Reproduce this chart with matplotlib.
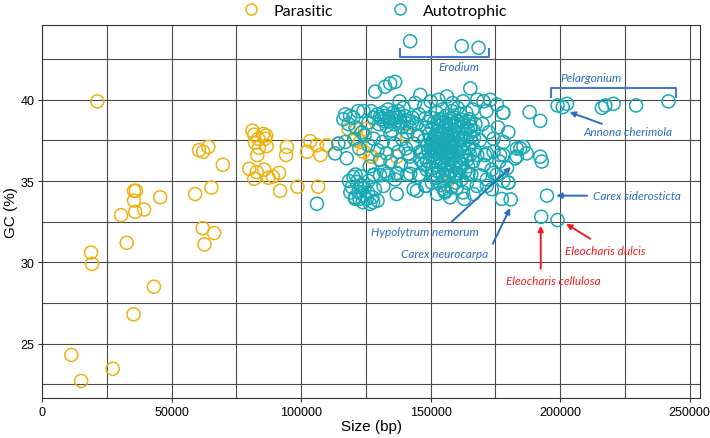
import matplotlib
matplotlib.use("Agg")
import matplotlib.pyplot as plt
from matplotlib import font_manager
from matplotlib.lines import Line2D
from matplotlib.ticker import MultipleLocator
import numpy as np

# Parasitic plastomes (size bp, GC %)
parasitic = [
    (21350, 39.9), (60600, 36.9), (64200, 37.1), (62200, 36.8), (69800, 36.0),
    (59100, 34.2), (65400, 34.6), (35500, 34.4), (36200, 34.4), (35500, 33.8),
    (45600, 34.0), (39400, 33.25), (36000, 33.1), (30500, 32.9), (62000, 32.1),
    (66400, 31.8), (62700, 31.1), (32700, 31.2), (18900, 30.6), (19300, 29.9),
    (43200, 28.5), (35300, 26.8), (11300, 24.3), (27300, 23.45), (15100, 22.7),
    (81200, 38.1), (81900, 37.85), (85400, 37.9), (86500, 37.8), (86100, 37.6),
    (83500, 37.6), (82200, 37.35), (83700, 37.05), (86700, 37.15), (83100, 36.6),
    (94500, 37.1), (94200, 36.6), (80000, 35.75), (82900, 35.55), (85800, 35.7),
    (81900, 35.14), (87400, 35.2), (89100, 35.28), (91500, 35.5), (91900, 34.4),
    (98600, 34.65), (106600, 34.65), (103500, 37.45), (102300, 36.8), (106100, 37.2),
    (107500, 36.6), (109900, 37.2), (114400, 37.3), (118300, 38.2), (121500, 38.2),
    (124700, 38.2), (120800, 37.5), (122800, 37.4), (124100, 36.8), (126600, 36.5),
    (130500, 36.3), (137000, 36.5), (140800, 37.8), (156200, 34.8), (127300, 36.5),
]

# Autotrophic plastomes: dense core
auto_core = [
    (150100, 38.9), (151300, 38.6), (152400, 39.2), (153500, 38.8), (154600, 39.4),
    (155800, 39.0), (156900, 38.7), (158100, 39.3), (159200, 38.9), (160400, 39.5),
    (161500, 39.1), (162700, 38.6), (163800, 39.2), (165000, 38.8), (166200, 39.4),
    (167300, 38.5), (148200, 38.3), (149400, 37.9), (150600, 38.2), (151700, 37.8),
    (152900, 38.4), (154000, 38.0), (155100, 38.3), (156300, 37.9), (157400, 38.2),
    (158600, 37.8), (159700, 38.4), (160900, 38.0), (162000, 38.3), (163200, 37.9),
    (164300, 38.2), (165500, 37.7), (166600, 38.1), (147500, 37.5), (148700, 37.2),
    (149800, 37.6), (151000, 37.3), (152100, 37.7), (153300, 37.4), (154400, 37.6),
    (155600, 37.2), (156700, 37.5), (157900, 37.1), (159000, 37.6), (160200, 37.3),
    (161300, 37.7), (162500, 37.2), (163600, 37.5), (164800, 37.0), (166000, 37.4),
    (167100, 36.9), (146800, 36.8), (148000, 36.5), (149100, 36.9), (150300, 36.6),
    (151400, 37.0), (152600, 36.7), (153700, 36.4), (154900, 36.8), (156000, 36.5),
    (157200, 36.9), (158300, 36.6), (159500, 36.2), (160600, 36.7), (161800, 36.4),
    (162900, 36.8), (164100, 36.3), (165200, 36.6), (166400, 36.2), (168000, 36.6),
    (147300, 36.0), (148500, 35.7), (149600, 36.1), (150800, 35.8), (151900, 36.2),
    (153000, 35.9), (154200, 36.1), (155300, 35.7), (156500, 36.0), (157600, 35.6),
    (158800, 35.9), (159900, 35.5), (161100, 35.8), (162200, 36.0), (163400, 35.6),
    (164500, 35.9), (165700, 35.4), (152000, 35.2), (154800, 35.0), (157000, 35.3),
    (159600, 34.9), (161900, 35.1), (158000, 34.6), (155500, 34.4), (152800, 37.9),
    (153900, 37.3), (155000, 38.6), (156100, 37.0), (157300, 38.5), (158400, 37.4),
    (154700, 35.4), (156800, 36.3), (155900, 38.1), (157700, 36.8), (153200, 38.1),
    (159300, 38.1), (154300, 37.0), (155700, 36.6), (156400, 37.7), (153600, 36.2),
    (150700, 37.45), (151800, 36.45), (152500, 38.05), (153100, 37.15), (153800, 36.75),
    (154500, 37.85), (155200, 36.95), (155400, 37.45), (156200, 38.45), (156600, 36.85),
    (157100, 37.35), (157500, 37.75), (158000, 36.35), (158700, 37.25), (159100, 38.55),
    (159800, 36.85), (160300, 37.85), (160800, 36.25), (161500, 37.05), (162100, 38.75),
    (149200, 38.65), (150100, 37.05), (151200, 35.45), (152300, 36.95), (153400, 35.55),
    (154100, 38.75), (155400, 35.95), (156300, 35.35), (157800, 38.85), (158900, 35.25),
    (160700, 38.65), (161600, 36.05), (162700, 37.65), (163700, 36.55), (164600, 38.65),
    (148600, 36.25), (147900, 38.85), (165300, 38.35), (166700, 37.65), (154000, 34.75),
]

# Autotrophic: clump near 130-145 kb, GC ~38.8
auto_band = [
    (128000, 38.9), (129500, 39.1), (131000, 38.8), (132500, 39.0), (134000, 38.7),
    (135500, 39.2), (137000, 38.9), (138500, 38.6), (140000, 39.0), (141500, 38.7),
    (143000, 38.9), (144500, 38.5), (130000, 38.5), (133000, 38.4), (136000, 38.5),
    (139000, 38.3), (142000, 38.3), (127000, 39.3), (133500, 39.4), (139500, 39.5),
    (145500, 39.1), (126000, 38.6), (135000, 38.1), (141000, 38.0), (131500, 39.2),
    (137500, 39.3), (134800, 38.9), (136500, 38.7), (132000, 38.7), (130500, 38.95),
    (133800, 38.85), (136200, 39.05), (138000, 38.95), (140800, 38.55), (142800, 38.65),
]

# Autotrophic: surrounding scatter
auto_scatter = [
    (117000, 37.4), (114400, 37.3), (113100, 36.7), (117600, 36.4), (120500, 37.6),
    (122500, 37.0), (124500, 37.8), (126000, 37.2), (128000, 37.6), (129500, 36.9),
    (131500, 37.4), (133000, 36.7), (134500, 37.9), (136000, 37.3), (137500, 36.8),
    (139000, 37.6), (140500, 37.0), (142000, 36.5), (143500, 37.3), (145000, 37.8),
    (130500, 36.3), (134500, 36.2), (138500, 36.0), (142500, 35.9), (126500, 35.9),
    (132000, 35.6), (128000, 35.4), (136900, 35.5), (141000, 35.4), (145500, 35.4),
    (146000, 36.3), (117000, 39.1), (118900, 39.0), (116300, 38.8), (118300, 38.5),
    (120200, 38.9), (122000, 39.3), (124100, 39.3), (121000, 38.3), (123500, 38.0),
    (128600, 40.5), (132400, 40.8), (134400, 41.0), (136300, 41.1), (146000, 40.3),
    (156300, 40.2), (165300, 40.7), (150000, 39.9), (153000, 40.0), (158500, 39.8),
    (162500, 39.9), (168000, 40.0), (170400, 39.9), (173000, 40.0), (175600, 39.7),
    (178100, 39.2), (144000, 39.8), (147500, 39.6), (171500, 39.3), (138000, 39.9),
    (170000, 38.5), (172500, 38.0), (174300, 37.6), (178100, 37.4), (183300, 37.0),
    (185800, 37.1), (174300, 36.8), (178100, 36.6), (171000, 36.6), (176000, 38.3),
    (180000, 38.0), (169000, 37.5), (170500, 36.0), (173500, 35.7), (176500, 36.2),
    (179500, 35.8), (183300, 36.5), (184600, 37.0), (187100, 36.7), (177900, 39.2),
    (164000, 34.9), (167800, 34.7), (171700, 35.1), (174300, 35.5), (175500, 35.4),
    (178100, 35.0), (180000, 34.9), (173600, 34.5), (169100, 35.35), (164600, 35.45),
    (160100, 35.35), (155600, 34.3), (150500, 34.9), (147900, 34.7), (144700, 34.4),
    (142100, 35.45), (143400, 34.5), (148500, 34.7), (154900, 34.5), (160100, 34.6),
    (136900, 34.2), (131800, 34.7), (130500, 35.35), (133700, 35.35), (136300, 35.1),
    (146000, 35.35), (137000, 35.45), (133100, 35.45), (128000, 35.35), (141400, 36.7),
    (145900, 36.8), (151100, 36.9), (171700, 36.7), (176800, 36.6), (171700, 34.7),
    (152500, 34.2), (157500, 34.0), (162500, 34.3), (166500, 34.2), (163000, 33.9),
]

# Autotrophic: low-GC clump near 120-128 kb
auto_low = [
    (120200, 35.25), (121500, 34.94), (123400, 34.73), (122100, 34.32), (124100, 34.12),
    (125400, 33.91), (126600, 33.6), (120800, 34.0), (119600, 34.63), (120800, 33.91),
    (122800, 34.73), (118500, 35.0), (119000, 34.3), (121000, 35.4), (123000, 35.3),
    (124500, 34.6), (125800, 34.3), (127500, 34.0), (126000, 35.0), (128500, 34.5),
    (129500, 33.8), (127800, 33.7), (123800, 33.7), (122500, 33.9),
]

# Autotrophic: named outliers (Erodium, Pelargonium, Annona, Carex, Eleocharis ...)
auto_outliers = [
    (142100, 43.6), (162000, 43.3), (168500, 43.2),
    (199000, 39.65), (201000, 39.55), (202600, 39.75), (216100, 39.5), (217400, 39.65),
    (220600, 39.75), (229300, 39.65), (241800, 39.9), (188200, 39.24), (192300, 38.7),
    (192300, 36.5), (192900, 36.2), (182600, 36.4), (180000, 34.9), (177500, 33.9),
    (180900, 33.87), (194900, 34.1), (192700, 32.8), (199000, 32.6), (106100, 33.6),
]

par = np.array(parasitic)
auto = np.array(auto_core + auto_band + auto_scatter + auto_low + auto_outliers)

par_color = "#EEB10F"
auto_color = "#18A9B4"
blue = "#2A6EC0"
red = "#F01C1C"

installed = {f.name for f in font_manager.fontManager.ttflist}
tick_font = "Liberation Sans Narrow" if "Liberation Sans Narrow" in installed else "Liberation Sans"
tick_size = 10 if tick_font == "Liberation Sans Narrow" else 9

fig = plt.figure(figsize=(7.1, 4.39), dpi=100)
ax = fig.add_axes([0.0592, 0.0911, 0.9268, 0.8497])

ax.scatter(par[:, 0], par[:, 1], s=88, facecolors="none", edgecolors=par_color, linewidths=1.1, zorder=3)
ax.scatter(auto[:, 0], auto[:, 1], s=88, facecolors="none", edgecolors=auto_color, linewidths=1.1, zorder=4)

ax.set_xlim(0, 254000)
ax.set_ylim(21.65, 44.6)
ax.xaxis.set_major_locator(MultipleLocator(50000))
ax.xaxis.set_minor_locator(MultipleLocator(25000))
ax.yaxis.set_major_locator(MultipleLocator(5))
ax.yaxis.set_minor_locator(MultipleLocator(2.5))
ax.grid(True, which="both", color="#4a4a4a", lw=0.8, zorder=0)
ax.tick_params(which="minor", length=0)
ax.tick_params(which="major", length=3, pad=2.5, labelsize=tick_size, color="#333333")
for lab in ax.get_xticklabels() + ax.get_yticklabels():
    lab.set_family(tick_font)
for sp in ax.spines.values():
    sp.set_color("#333333")
ax.set_xlabel("Size (bp)", fontsize=11, family="Liberation Sans", labelpad=1)
ax.set_ylabel("GC (%)", fontsize=11, family="Liberation Sans", labelpad=2)

handles = [
    Line2D([], [], ls="none", marker="o", markersize=8, mfc="none", mec=par_color, mew=1.1),
    Line2D([], [], ls="none", marker="o", markersize=8, mfc="none", mec=auto_color, mew=1.1),
]
ax.legend(handles, ["Parasitic", "Autotrophic"], loc="center", bbox_to_anchor=(0.5, 1.038),
          ncol=2, frameon=False, columnspacing=3.2, handletextpad=0.4,
          prop={"family": "Lato", "size": 11.5})

# brackets
ax.plot([138200, 138200, 172500, 172500], [43.14, 42.63, 42.63, 43.14], color="#4A78C8", lw=1.5, zorder=5)
ax.text(161000, 42.05, "Erodium", color=blue, style="italic", family="Lato", fontsize=8.5, ha="center", va="center")
ax.plot([196500, 196500, 244800, 244800], [40.2, 40.74, 40.74, 40.2], color="#4A78C8", lw=1.5, zorder=5)
ax.text(200000, 41.35, "Pelargonium", color=blue, style="italic", family="Lato", fontsize=8.5, ha="left", va="center")

arrow = dict(arrowstyle="-|>", lw=1.4, mutation_scale=8, shrinkA=0, shrinkB=0)
notes = [
    ("Annona cherimola", (208900, 38.03), "left", (216100, 38.52), (203600, 39.24), blue),
    ("Carex siderosticta", (212700, 34.1), "left", (210400, 34.1), (198500, 34.1), blue),
    ("Hypolytrum nemorum", (147900, 31.9), "center", (158200, 32.5), (181000, 35.86), blue),
    ("Carex neurocarpa", (155200, 30.53), "center", (174000, 31.14), (180700, 33.34), blue),
    ("Eleocharis dulcis", (201900, 30.7), "left", (211600, 31.45), (202300, 32.37), red),
    ("Eleocharis cellulosa", (197300, 28.87), "center", (192500, 29.6), (192500, 32.25), red),
]
for label, pos, ha, tail, head, col in notes:
    ax.text(pos[0], pos[1], label, color=col, style="italic", family="Lato", fontsize=8.5,
            ha=ha, va="center", zorder=6)
    ax.annotate("", xy=head, xytext=tail, arrowprops=dict(arrow, color=col), zorder=6)

fig.savefig("out.png", dpi=100)
